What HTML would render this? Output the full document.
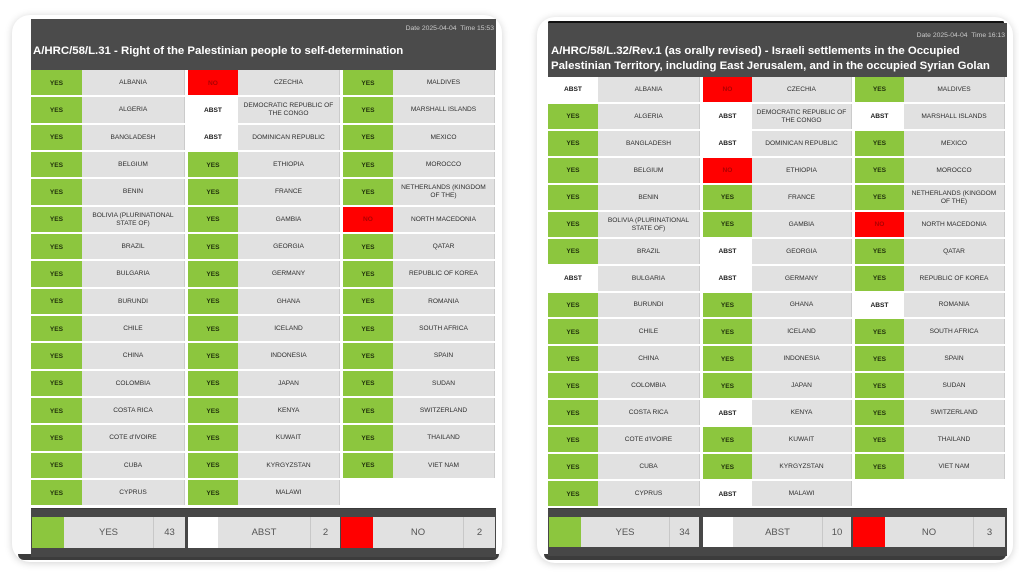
<!DOCTYPE html>
<html><head><meta charset="utf-8">
<style>
*{margin:0;padding:0;box-sizing:border-box}
html,body{width:1019px;height:572px;background:#fff;overflow:hidden;font-family:"Liberation Sans",sans-serif}
.card{position:absolute;background:#fff;border-radius:18px;box-shadow:0 1px 8px rgba(0,0,0,0.18)}
.hdr{position:absolute;background:#4b4b4b}
.date{position:absolute;font-size:6.8px;color:#c9c9c9;white-space:nowrap;text-align:right}
.title{position:absolute;font-size:11.4px;font-weight:bold;color:#fff;white-space:nowrap;line-height:15px}
.col{position:absolute;display:grid;row-gap:2px}
.v{display:flex;align-items:center;justify-content:center;font-size:6.6px;font-weight:bold;padding-top:1px}
.y{background:#8cc63e;color:#22330c}
.n{background:#ff0000;color:#b00000}
.a{background:#fff;color:#1a1a1a}
.c{background:#e1e1e1;border-right:1px solid #cbcbcb;display:flex;align-items:center;justify-content:center;text-align:center;font-size:6.6px;color:#2e2e2e;line-height:8px;padding:1px 3px 0}
.band{position:absolute;background:#474747;border-top:1px solid #3a3a3a}
.s{position:absolute;display:flex;align-items:center;justify-content:center;font-size:9.5px;color:#555}
.sg{background:#e1e1e1}
.sb{border-left:1px solid #c8c8c8}
.edge{position:absolute;background:#3c3c3c;border-radius:0 0 14px 14px}
</style></head><body>

<!-- LEFT CARD -->
<div class="card" style="left:12px;top:15px;width:490px;height:547px"></div>
<div class="edge" style="left:18px;top:554px;width:481px;height:6px"></div>
<div class="hdr" style="left:31px;top:19px;width:465px;height:51px"></div>
<div class="date" style="left:300px;top:25px;width:194px">Date 2025-04-04&nbsp; Time 15:53</div>
<div class="title" style="left:33px;top:44px">A/HRC/58/L.31 - Right of the Palestinian people to self-determination</div>

<div class="col" style="left:31px;top:70px;grid-template-columns:51px 103px;grid-auto-rows:25.33px">
<div class="v y">YES</div><div class="c">ALBANIA</div>
<div class="v y">YES</div><div class="c">ALGERIA</div>
<div class="v y">YES</div><div class="c">BANGLADESH</div>
<div class="v y">YES</div><div class="c">BELGIUM</div>
<div class="v y">YES</div><div class="c">BENIN</div>
<div class="v y">YES</div><div class="c">BOLIVIA (PLURINATIONAL STATE OF)</div>
<div class="v y">YES</div><div class="c">BRAZIL</div>
<div class="v y">YES</div><div class="c">BULGARIA</div>
<div class="v y">YES</div><div class="c">BURUNDI</div>
<div class="v y">YES</div><div class="c">CHILE</div>
<div class="v y">YES</div><div class="c">CHINA</div>
<div class="v y">YES</div><div class="c">COLOMBIA</div>
<div class="v y">YES</div><div class="c">COSTA RICA</div>
<div class="v y">YES</div><div class="c">COTE d'IVOIRE</div>
<div class="v y">YES</div><div class="c">CUBA</div>
<div class="v y">YES</div><div class="c">CYPRUS</div>
</div>
<div class="col" style="left:188px;top:70px;grid-template-columns:50px 102px;grid-auto-rows:25.33px">
<div class="v n">NO</div><div class="c">CZECHIA</div>
<div class="v a">ABST</div><div class="c">DEMOCRATIC REPUBLIC OF THE CONGO</div>
<div class="v a">ABST</div><div class="c">DOMINICAN REPUBLIC</div>
<div class="v y">YES</div><div class="c">ETHIOPIA</div>
<div class="v y">YES</div><div class="c">FRANCE</div>
<div class="v y">YES</div><div class="c">GAMBIA</div>
<div class="v y">YES</div><div class="c">GEORGIA</div>
<div class="v y">YES</div><div class="c">GERMANY</div>
<div class="v y">YES</div><div class="c">GHANA</div>
<div class="v y">YES</div><div class="c">ICELAND</div>
<div class="v y">YES</div><div class="c">INDONESIA</div>
<div class="v y">YES</div><div class="c">JAPAN</div>
<div class="v y">YES</div><div class="c">KENYA</div>
<div class="v y">YES</div><div class="c">KUWAIT</div>
<div class="v y">YES</div><div class="c">KYRGYZSTAN</div>
<div class="v y">YES</div><div class="c">MALAWI</div>
</div>
<div class="col" style="left:343px;top:70px;grid-template-columns:50px 102px;grid-auto-rows:25.33px">
<div class="v y">YES</div><div class="c">MALDIVES</div>
<div class="v y">YES</div><div class="c">MARSHALL ISLANDS</div>
<div class="v y">YES</div><div class="c">MEXICO</div>
<div class="v y">YES</div><div class="c">MOROCCO</div>
<div class="v y">YES</div><div class="c">NETHERLANDS (KINGDOM OF THE)</div>
<div class="v n">NO</div><div class="c">NORTH MACEDONIA</div>
<div class="v y">YES</div><div class="c">QATAR</div>
<div class="v y">YES</div><div class="c">REPUBLIC OF KOREA</div>
<div class="v y">YES</div><div class="c">ROMANIA</div>
<div class="v y">YES</div><div class="c">SOUTH AFRICA</div>
<div class="v y">YES</div><div class="c">SPAIN</div>
<div class="v y">YES</div><div class="c">SUDAN</div>
<div class="v y">YES</div><div class="c">SWITZERLAND</div>
<div class="v y">YES</div><div class="c">THAILAND</div>
<div class="v y">YES</div><div class="c">VIET NAM</div>
</div>

<div class="band" style="left:31px;top:508px;width:465px;height:49px"></div>
<div class="s" style="left:32px;top:517px;width:32px;height:31px;background:#8cc63e"></div>
<div class="s sg" style="left:64px;top:517px;width:89px;height:31px">YES</div>
<div class="s sg sb" style="left:153px;top:517px;width:32px;height:31px">43</div>
<div class="s" style="left:188px;top:517px;width:30px;height:31px;background:#fff"></div>
<div class="s sg" style="left:218px;top:517px;width:92px;height:31px">ABST</div>
<div class="s sg sb" style="left:310px;top:517px;width:30px;height:31px">2</div>
<div class="s" style="left:341px;top:517px;width:32px;height:31px;background:#ff0000"></div>
<div class="s sg" style="left:373px;top:517px;width:90px;height:31px">NO</div>
<div class="s sg sb" style="left:463px;top:517px;width:32px;height:31px">2</div>

<!-- RIGHT CARD -->
<div class="card" style="left:537px;top:17px;width:476px;height:546px"></div>
<div class="edge" style="left:544px;top:554px;width:462px;height:6px"></div>
<div style="position:absolute;left:548px;top:21px;width:456px;height:3px;background:#111;border-radius:2px"></div>
<div class="hdr" style="left:548px;top:23px;width:459px;height:54px"></div>
<div class="date" style="left:800px;top:32px;width:205px">Date 2025-04-04&nbsp; Time 16:13</div>
<div class="title" style="left:551px;top:44px">A/HRC/58/L.32/Rev.1 (as orally revised) - Israeli settlements in the Occupied<br>Palestinian Territory, including East Jerusalem, and in the occupied Syrian Golan</div>

<div class="col" style="left:548px;top:77px;grid-template-columns:50px 102px;grid-auto-rows:24.94px">
<div class="v a">ABST</div><div class="c">ALBANIA</div>
<div class="v y">YES</div><div class="c">ALGERIA</div>
<div class="v y">YES</div><div class="c">BANGLADESH</div>
<div class="v y">YES</div><div class="c">BELGIUM</div>
<div class="v y">YES</div><div class="c">BENIN</div>
<div class="v y">YES</div><div class="c">BOLIVIA (PLURINATIONAL STATE OF)</div>
<div class="v y">YES</div><div class="c">BRAZIL</div>
<div class="v a">ABST</div><div class="c">BULGARIA</div>
<div class="v y">YES</div><div class="c">BURUNDI</div>
<div class="v y">YES</div><div class="c">CHILE</div>
<div class="v y">YES</div><div class="c">CHINA</div>
<div class="v y">YES</div><div class="c">COLOMBIA</div>
<div class="v y">YES</div><div class="c">COSTA RICA</div>
<div class="v y">YES</div><div class="c">COTE d'IVOIRE</div>
<div class="v y">YES</div><div class="c">CUBA</div>
<div class="v y">YES</div><div class="c">CYPRUS</div>
</div>
<div class="col" style="left:703px;top:77px;grid-template-columns:49px 100px;grid-auto-rows:24.94px">
<div class="v n">NO</div><div class="c">CZECHIA</div>
<div class="v a">ABST</div><div class="c">DEMOCRATIC REPUBLIC OF THE CONGO</div>
<div class="v a">ABST</div><div class="c">DOMINICAN REPUBLIC</div>
<div class="v n">NO</div><div class="c">ETHIOPIA</div>
<div class="v y">YES</div><div class="c">FRANCE</div>
<div class="v y">YES</div><div class="c">GAMBIA</div>
<div class="v a">ABST</div><div class="c">GEORGIA</div>
<div class="v a">ABST</div><div class="c">GERMANY</div>
<div class="v y">YES</div><div class="c">GHANA</div>
<div class="v y">YES</div><div class="c">ICELAND</div>
<div class="v y">YES</div><div class="c">INDONESIA</div>
<div class="v y">YES</div><div class="c">JAPAN</div>
<div class="v a">ABST</div><div class="c">KENYA</div>
<div class="v y">YES</div><div class="c">KUWAIT</div>
<div class="v y">YES</div><div class="c">KYRGYZSTAN</div>
<div class="v a">ABST</div><div class="c">MALAWI</div>
</div>
<div class="col" style="left:855px;top:77px;grid-template-columns:49px 101px;grid-auto-rows:24.94px">
<div class="v y">YES</div><div class="c">MALDIVES</div>
<div class="v a">ABST</div><div class="c">MARSHALL ISLANDS</div>
<div class="v y">YES</div><div class="c">MEXICO</div>
<div class="v y">YES</div><div class="c">MOROCCO</div>
<div class="v y">YES</div><div class="c">NETHERLANDS (KINGDOM OF THE)</div>
<div class="v n">NO</div><div class="c">NORTH MACEDONIA</div>
<div class="v y">YES</div><div class="c">QATAR</div>
<div class="v y">YES</div><div class="c">REPUBLIC OF KOREA</div>
<div class="v a">ABST</div><div class="c">ROMANIA</div>
<div class="v y">YES</div><div class="c">SOUTH AFRICA</div>
<div class="v y">YES</div><div class="c">SPAIN</div>
<div class="v y">YES</div><div class="c">SUDAN</div>
<div class="v y">YES</div><div class="c">SWITZERLAND</div>
<div class="v y">YES</div><div class="c">THAILAND</div>
<div class="v y">YES</div><div class="c">VIET NAM</div>
</div>

<div class="band" style="left:548px;top:508px;width:459px;height:48px"></div>
<div class="s" style="left:549px;top:517px;width:32px;height:30px;background:#8cc63e"></div>
<div class="s sg" style="left:581px;top:517px;width:88px;height:30px">YES</div>
<div class="s sg sb" style="left:669px;top:517px;width:30px;height:30px">34</div>
<div class="s" style="left:703px;top:517px;width:30px;height:30px;background:#fff"></div>
<div class="s sg" style="left:733px;top:517px;width:89px;height:30px">ABST</div>
<div class="s sg sb" style="left:822px;top:517px;width:29px;height:30px">10</div>
<div class="s" style="left:853px;top:517px;width:32px;height:30px;background:#ff0000"></div>
<div class="s sg" style="left:885px;top:517px;width:88px;height:30px">NO</div>
<div class="s sg sb" style="left:973px;top:517px;width:32px;height:30px">3</div>

</body></html>
